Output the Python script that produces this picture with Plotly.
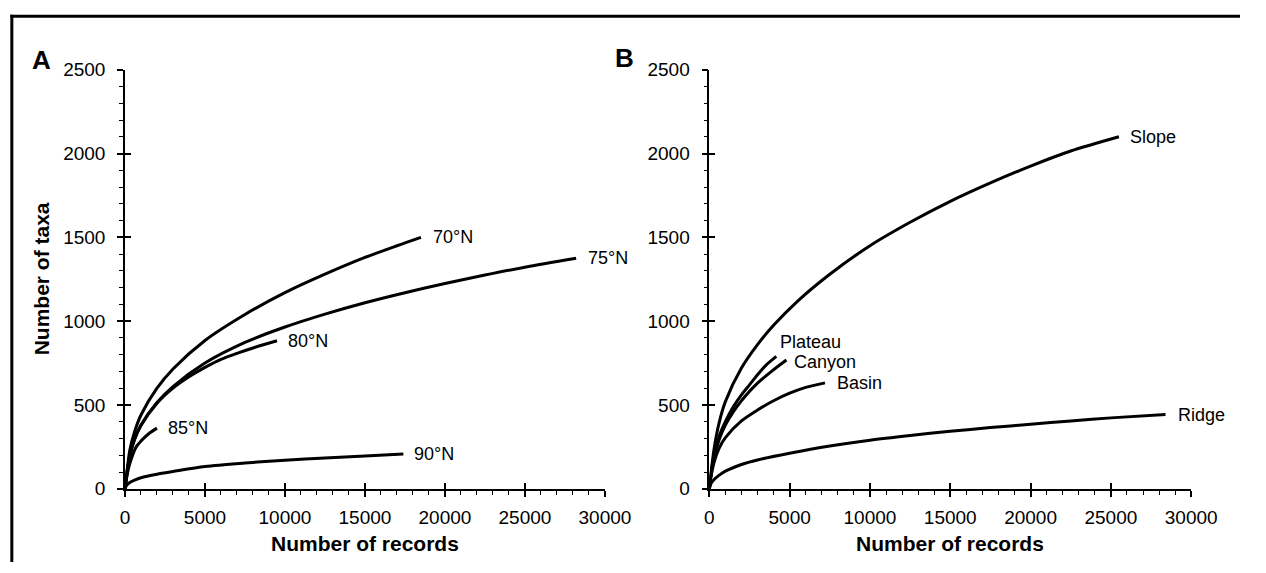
import plotly.graph_objects as go

# ---------------- data ----------------
a70_x = [0, 100, 300, 600, 1000, 2000, 3000, 5000, 7500, 10000, 12500, 15000, 17000, 18500]
a70_y = [0, 85, 230, 340, 440, 600, 715, 885, 1040, 1170, 1280, 1380, 1450, 1500]

a75_x = [0, 100, 300, 600, 1000, 2000, 3000, 5000, 7500, 10000, 12500, 15000, 17500, 20000, 22500, 25000, 28200]
a75_y = [0, 75, 195, 295, 380, 515, 610, 750, 873, 965, 1042, 1110, 1170, 1225, 1275, 1322, 1375]

a80_x = [0, 100, 300, 600, 1000, 2000, 3000, 4000, 5000, 6000, 7000, 8000, 9500]
a80_y = [0, 75, 195, 295, 378, 510, 600, 668, 724, 772, 808, 840, 883]

a85_x = [0, 100, 300, 700, 1000, 1500, 2000]
a85_y = [0, 65, 150, 250, 285, 330, 362]

a90_x = [0, 100, 300, 600, 1000, 2000, 3000, 5000, 7500, 10000, 12500, 15000, 17400]
a90_y = [0, 20, 38, 52, 66, 87, 103, 133, 154, 170, 184, 196, 207]

slope_x = [0, 100, 300, 600, 1000, 2000, 3000, 4000, 5500, 7500, 10000, 12500, 15000, 17500, 20000, 22500, 25500]
slope_y = [0, 90, 240, 390, 520, 720, 860, 975, 1120, 1280, 1450, 1590, 1715, 1825, 1925, 2015, 2100]

plateau_x = [0, 100, 300, 600, 1000, 1500, 2000, 2500, 3000, 3500, 4170]
plateau_y = [0, 80, 200, 310, 400, 490, 560, 620, 680, 735, 790]

canyon_x = [0, 100, 300, 600, 1000, 1500, 2000, 3000, 4000, 4800]
canyon_y = [0, 80, 190, 290, 380, 460, 525, 630, 710, 768]

basin_x = [0, 100, 300, 600, 1000, 2000, 3000, 4000, 5000, 6000, 7200]
basin_y = [0, 70, 160, 240, 305, 405, 470, 525, 570, 605, 632]

ridge_x = [0, 100, 300, 600, 1000, 2000, 3000, 5000, 7500, 10000, 12500, 15000, 17500, 20000, 22500, 25000, 28400]
ridge_y = [0, 30, 55, 80, 105, 145, 172, 212, 255, 290, 318, 343, 365, 385, 405, 423, 443]

panel_a = [("70°N", a70_x, a70_y, 10, 0), ("75°N", a75_x, a75_y, 10, 0),
           ("80°N", a80_x, a80_y, 9, 0), ("85°N", a85_x, a85_y, 9, 0),
           ("90°N", a90_x, a90_y, 9, 0)]
panel_b = [("Slope", slope_x, slope_y, 9, 0), ("Plateau", plateau_x, plateau_y, 2, 14),
           ("Canyon", canyon_x, canyon_y, 6, -2), ("Basin", basin_x, basin_y, 10, 0),
           ("Ridge", ridge_x, ridge_y, 10, 0)]

x_ticks = [0, 5000, 10000, 15000, 20000, 25000, 30000]
y_ticks = [0, 500, 1000, 1500, 2000, 2500]

W, H = 1266, 573
FONT = "Liberation Sans, Arial, Helvetica, sans-serif"

fig = go.Figure()

def add_panel(series, xa, ya):
    for name, xs, ys, xs_shift, ys_shift in series:
        fig.add_trace(go.Scatter(x=xs, y=ys, mode="lines", xaxis=xa, yaxis=ya,
                                 line=dict(color="black", width=3, shape="spline", smoothing=0.8),
                                 hoverinfo="skip", showlegend=False))
        fig.add_annotation(x=xs[-1], y=ys[-1], xref=xa, yref=ya, text=name, showarrow=False,
                           xanchor="left", yanchor="middle", xshift=xs_shift, yshift=ys_shift,
                           font=dict(family=FONT, size=18, color="black"))

add_panel(panel_a, "x", "y")
add_panel(panel_b, "x2", "y2")
fig.add_trace(go.Scatter(x=[None], y=[None], xaxis="x3", yaxis="y3", showlegend=False, hoverinfo="skip"))
fig.add_trace(go.Scatter(x=[None], y=[None], xaxis="x4", yaxis="y4", showlegend=False, hoverinfo="skip"))

px = lambda v: v / W
py = lambda v: 1 - v / H
ydom = [py(497), py(62)]
xdomA = [px(123), px(615)]
xdomB = [px(722), px(1216)]

tickfont = dict(family=FONT, size=19, color="black")

def xaxis_base(dom, anchor):
    return dict(domain=dom, anchor=anchor, range=[0, 30000], tickvals=x_ticks,
                ticktext=[str(v) for v in x_ticks], showgrid=False, zeroline=False,
                showline=True, linecolor="black", linewidth=1.5,
                ticks="outside", ticklen=6, tickwidth=1.5, tickcolor="black",
                ticklabelstandoff=5, tickfont=tickfont,
                minor=dict(dtick=1000, tick0=0, ticks="outside", ticklen=4, tickwidth=1.2,
                           tickcolor="black", showgrid=False),
                fixedrange=True)

def yaxis_base(anchor):
    return dict(domain=ydom, anchor=anchor, range=[0, 2500], tickvals=y_ticks,
                ticktext=[str(v) for v in y_ticks], showgrid=False, zeroline=False,
                showline=True, linecolor="black", linewidth=1.5,
                ticks="outside", ticklen=6, tickwidth=1.5, tickcolor="black",
                ticklabelstandoff=8, tickfont=tickfont,
                minor=dict(dtick=100, tick0=0, ticks="outside", ticklen=4, tickwidth=1.2,
                           tickcolor="black", showgrid=False),
                fixedrange=True)

def x_inner(over, anchor):
    return dict(overlaying=over, anchor=anchor, side="bottom", range=[0, 30000], tickvals=x_ticks,
                showticklabels=False, showgrid=False, zeroline=False, showline=False,
                ticks="inside", ticklen=6, tickwidth=1.5, tickcolor="black", fixedrange=True)

def y_inner(over, anchor):
    return dict(overlaying=over, anchor=anchor, side="left", range=[0, 2500], tickvals=y_ticks,
                showticklabels=False, showgrid=False, zeroline=False, showline=False,
                ticks="inside", ticklen=6, tickwidth=1.5, tickcolor="black", fixedrange=True)

fig.update_layout(
    width=W, height=H, autosize=False,
    margin=dict(l=0, r=0, t=0, b=0),
    paper_bgcolor="white", plot_bgcolor="rgba(0,0,0,0)",
    showlegend=False,
    xaxis=xaxis_base(xdomA, "y"), yaxis=yaxis_base("x"),
    xaxis2=xaxis_base(xdomB, "y2"), yaxis2=yaxis_base("x2"),
    xaxis3=x_inner("x", "y3"), yaxis3=y_inner("y", "x3"),
    xaxis4=x_inner("x2", "y4"), yaxis4=y_inner("y2", "x4"),
)

bold = dict(family=FONT, size=21, color="black")
fig.add_annotation(x=px(37), y=(ydom[0] + ydom[1]) / 2, xref="paper", yref="paper",
                   text="<b>Number of taxa</b>", textangle=-90, showarrow=False,
                   xanchor="center", yanchor="middle", font=bold)
for dom in (xdomA, xdomB):
    fig.add_annotation(x=(dom[0] + dom[1]) / 2, y=py(554), xref="paper", yref="paper",
                       text="<b>Number of records</b>", showarrow=False,
                       xanchor="center", yanchor="middle", font=bold)
letter = dict(family=FONT, size=26, color="black")
fig.add_annotation(x=px(37), y=py(52), xref="paper", yref="paper", text="<b>A</b>",
                   showarrow=False, xanchor="center", yanchor="middle", font=letter)
fig.add_annotation(x=px(635), y=py(50), xref="paper", yref="paper", text="<b>B</b>",
                   showarrow=False, xanchor="center", yanchor="middle", font=letter)

fig.add_shape(type="line", xref="paper", yref="paper", x0=px(7), x1=px(7), y0=0, y1=py(5),
              line=dict(color="black", width=3))
fig.add_shape(type="line", xref="paper", yref="paper", x0=px(5.5), x1=1, y0=py(6.5), y1=py(6.5),
              line=dict(color="black", width=3))

post = ("document.documentElement.style.margin='0';document.body.style.margin='0';"
        "document.body.style.padding='0';document.body.style.overflow='hidden';"
        "document.documentElement.style.overflow='hidden';")
fig.write_html("out.html", config={"displayModeBar": False}, post_script=post)
